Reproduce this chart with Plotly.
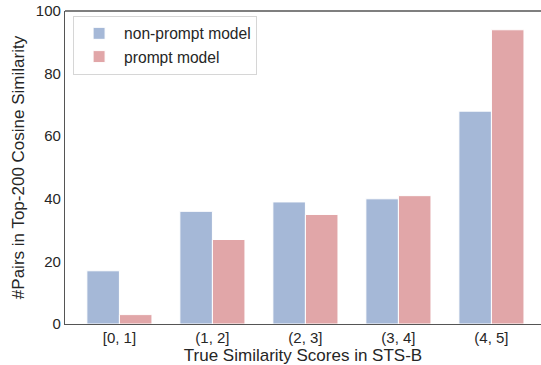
import plotly.graph_objects as go

categories = ["[0, 1]", "(1, 2]", "(2, 3]", "(3, 4]", "(4, 5]"]
non_prompt = [17, 36, 39, 40, 68]
prompt = [3, 27, 35, 41, 94]

x_idx = list(range(len(categories)))

fig = go.Figure()
fig.add_trace(go.Bar(
    x=x_idx, y=non_prompt, name="non-prompt model",
    marker=dict(color="#a5b8d7", line=dict(color="white", width=1)),
))
fig.add_trace(go.Bar(
    x=x_idx, y=prompt, name="prompt model",
    marker=dict(color="#e1a6a8", line=dict(color="white", width=1)),
))

font_family = "Liberation Sans, Arial, sans-serif"
fig.update_layout(
    width=541, height=365,
    margin=dict(l=65, r=0, t=11, b=41),
    paper_bgcolor="white", plot_bgcolor="white",
    barmode="group", bargap=0.3, bargroupgap=0,
    font=dict(family=font_family, size=15, color="#262626"),
    legend=dict(
        x=0.017, y=0.985, xanchor="left", yanchor="top",
        bgcolor="white", bordercolor="#d6d6d6", borderwidth=1,
        font=dict(size=15.6, color="#262626"),
        itemwidth=40,
    ),
    showlegend=True,
)
fig.update_xaxes(
    range=[-0.585, 4.533], automargin=False,
    tickmode="array", tickvals=x_idx, ticktext=categories,
    showgrid=False, zeroline=False,
    showline=True, linecolor="#555555", linewidth=1.3,
    ticks="", tickfont=dict(size=15),
    title=dict(text="True Similarity Scores in STS-B", font=dict(size=17), standoff=0),
    mirror=False,
)
fig.update_yaxes(
    range=[0, 100], automargin=False,
    tickvals=[0, 20, 40, 60, 80, 100],
    showgrid=False, zeroline=False,
    showline=True, linecolor="#555555", linewidth=1.3,
    ticks="", tickfont=dict(size=15),
    title=dict(text="#Pairs in Top-200 Cosine Similarity", font=dict(size=17), standoff=6),
)
# top spine
fig.add_shape(type="line", xref="paper", yref="paper", x0=0, x1=1, y0=1, y1=1,
              line=dict(color="#555555", width=1.3))

fig.write_html("out.html", config={"displayModeBar": False},
               post_script="document.body.style.margin='0';")
